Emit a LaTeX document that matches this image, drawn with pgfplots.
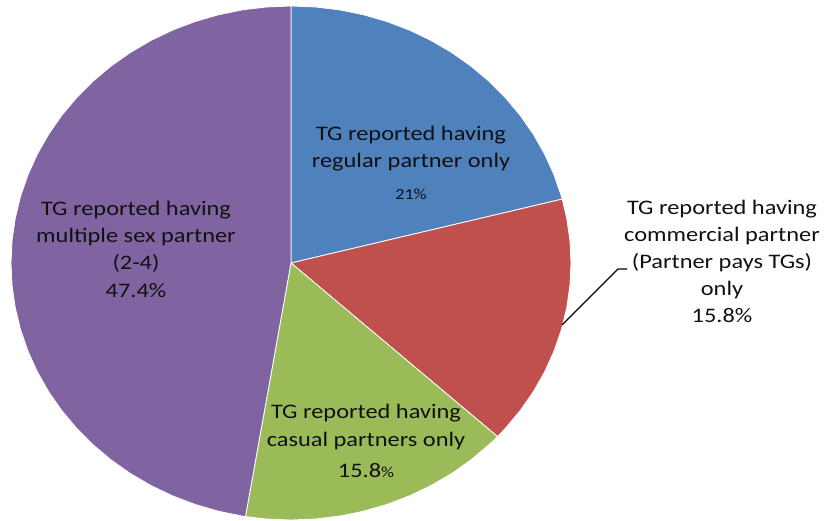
\documentclass[border=0pt]{standalone}
\usepackage{fontspec}
\setmainfont{Carlito}[FakeStretch=1.18]
\usepackage{pgfplots}
\pgfplotsset{compat=1.18}
\usepackage{pgfplotstable}
\definecolor{sblue}{HTML}{4F81BD}
\definecolor{sred}{HTML}{C0504D}
\definecolor{sgreen}{HTML}{9BBB59}
\definecolor{spurple}{HTML}{8064A2}
\definecolor{txt}{HTML}{111111}
% shares (percent): regular 21, commercial 15.8, casual 15.8, multiple 47.4
% slice boundaries in degrees (clockwise from 12 o'clock): 0, 75.6, 132.48, 189.36, 360
\pgfplotstableread{
t r
90 0
90 1
85 1
80 1
75 1
70 1
65 1
60 1
55 1
50 1
45 1
40 1
35 1
30 1
25 1
20 1
15 1
14.4 1
14.4 0
}\blueslice
\pgfplotstableread{
t r
14.4 0
14.4 1
10 1
5 1
0 1
-5 1
-10 1
-15 1
-20 1
-25 1
-30 1
-35 1
-40 1
-42.48 1
-42.48 0
}\redslice
\pgfplotstableread{
t r
-42.48 0
-42.48 1
-45 1
-50 1
-55 1
-60 1
-65 1
-70 1
-75 1
-80 1
-85 1
-90 1
-95 1
-99.36 1
-99.36 0
}\greenslice
\pgfplotstableread{
t r
-99.36 0
-99.36 1
-100 1
-105 1
-110 1
-115 1
-120 1
-125 1
-130 1
-135 1
-140 1
-145 1
-150 1
-155 1
-160 1
-165 1
-170 1
-175 1
-180 1
-185 1
-190 1
-195 1
-200 1
-205 1
-210 1
-215 1
-220 1
-225 1
-230 1
-235 1
-240 1
-245 1
-250 1
-255 1
-260 1
-265 1
-270 1
-270 0
}\purpleslice
\pgfplotsset{
  slice/.style={draw=white, line width=0.6pt},
}
\newcommand{\pie}[2]{%
  \addplot[slice, fill=#1] table[x expr={291+280*\thisrow{r}*cos(\thisrow{t})}, y expr={-263+257*\thisrow{r}*sin(\thisrow{t})}] {#2};}
\begin{document}
\begin{tikzpicture}[
  lbl/.style={font=\fontsize{15.5}{19.5}\selectfont, text=txt, anchor=base, inner sep=0pt},
  sml/.style={font=\fontsize{11.5}{14}\selectfont, text=txt, anchor=base, inner sep=0pt}]
\begin{axis}[
  hide axis, scale only axis, width=619.5pt, height=390.75pt,
  xmin=0, xmax=826, ymin=-521, ymax=0, clip=false]
\pie{sblue}{\blueslice}
\pie{sred}{\redslice}
\pie{sgreen}{\greenslice}
\pie{spurple}{\purpleslice}
\addplot[black, line width=1pt] coordinates {(562,-325) (618,-269) (627,-269)};
% blue label
\node[lbl] at (axis cs:411,-141) {TG reported having};
\node[lbl] at (axis cs:411,-168) {regular partner only};
\node[sml] at (axis cs:411,-200) {21\%};
% red label
\node[lbl] at (axis cs:722,-215) {TG reported having};
\node[lbl] at (axis cs:722,-242) {commercial partner};
\node[lbl] at (axis cs:722,-269) {(Partner pays TGs)};
\node[lbl] at (axis cs:722,-296) {only};
\node[lbl] at (axis cs:722,-323) {15.8\%};
% purple label
\node[lbl] at (axis cs:136,-216) {TG reported having};
\node[lbl] at (axis cs:136,-243) {multiple sex partner};
\node[lbl] at (axis cs:136,-270) {(2-4)};
\node[lbl] at (axis cs:136,-298) {47.4\%};
% green label
\node[lbl] at (axis cs:366,-419) {TG reported having};
\node[lbl] at (axis cs:366,-447) {casual partners only};
\node[lbl] at (axis cs:366,-478) {15.8{\fontsize{11.5}{14}\selectfont\%}};
\end{axis}
\pgfresetboundingbox
\path (current axis.south west) rectangle (current axis.north east);
\end{tikzpicture}
\end{document}
